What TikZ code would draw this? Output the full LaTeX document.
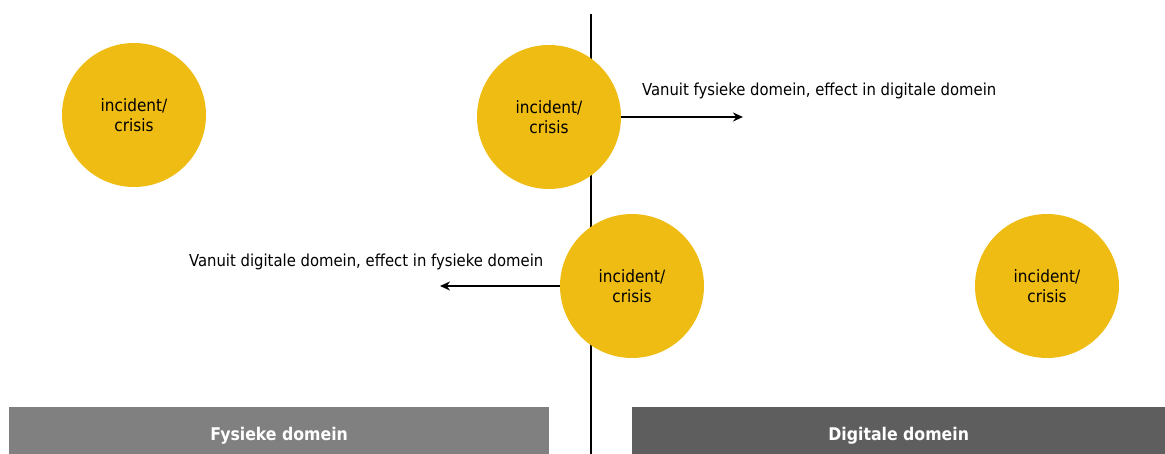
\documentclass[tikz,border=0pt]{standalone}
\usepackage{fontspec}
\setmainfont{DejaVu Sans Condensed}
\usetikzlibrary{arrows.meta}
\definecolor{gold}{HTML}{EFBC14}
\definecolor{barlight}{HTML}{808080}
\definecolor{bardark}{HTML}{5E5E5E}
\begin{document}
\begin{tikzpicture}[x=1pt,y=-1pt,
  crisis/.style={circle,fill=gold,minimum size=144pt,inner sep=0pt,align=center,font=\fontsize{17}{20}\selectfont},
  lbl/.style={anchor=west,font=\fontsize{16.5}{18}\selectfont,inner sep=0pt},
  bar/.style={anchor=north west,minimum height=58pt,inner sep=0pt,text=white,font=\bfseries\fontsize{17.5}{18}\selectfont},
  arr/.style={line width=2.8pt,-{Stealth[length=10pt,width=9pt]}}]
\useasboundingbox (0,0) rectangle (1165,454);
\coordinate (top) at (591,14);
\coordinate (bot) at (591,454);
\draw[line width=2.5pt] (top) -- (bot);
\node[crisis] (c1) at (134,115) {incident/\\crisis};
\node[crisis] (c2) at (549,117) {incident/\\crisis};
\node[crisis] (c3) at (632,286) {incident/\\crisis};
\node[crisis] (c4) at (1047,286) {incident/\\crisis};
\coordinate (a1) at (743,117);
\coordinate (a2) at (440,286);
\draw[arr] (c2.east) -- (a1);
\draw[arr] (c3.west) -- (a2);
\node[lbl] (l1) at (642,91) {Vanuit fysieke domein, effect in digitale domein};
\node[lbl] (l2) at (189,262) {Vanuit digitale domein, effect in fysieke domein};
\node[bar,fill=barlight,minimum width=540pt] (b1) at (9,407) {Fysieke domein};
\node[bar,fill=bardark,minimum width=533pt] (b2) at (632,407) {Digitale domein};
\end{tikzpicture}
\end{document}
